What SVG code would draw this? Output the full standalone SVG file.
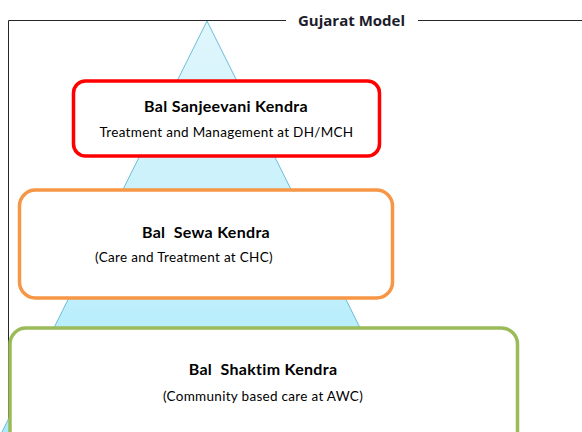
<svg xmlns="http://www.w3.org/2000/svg" width="582" height="432" viewBox="0 0 582 432">
  <style>
    .frame { fill: none; stroke: #262626; stroke-width: 1; }
    .box { fill: #ffffff; stroke-width: 3.5; }
    .title { font-family: Lato, "Liberation Sans", sans-serif; font-weight: bold; font-size: 16px; letter-spacing: 0.3px; fill: #000000; text-anchor: middle; }
    .sub { font-family: Lato, "Liberation Sans", sans-serif; font-size: 13.5px; letter-spacing: 0.3px; fill: #000000; text-anchor: middle; }
  </style>
  <defs>
    <linearGradient id="pyramidFill" x1="0" y1="0" x2="0" y2="1">
      <stop offset="0" stop-color="#e0f6fc"/>
      <stop offset="1" stop-color="#acebfc"/>
    </linearGradient>
  </defs>

  <!-- outer frame with caption -->
  <g id="frame">
    <path class="frame" d="M8.5,432 V20.5 H286 M418,20.5 H582"/>
    <text x="351.5" y="25.5" font-family="'Open Sans', 'Liberation Sans', sans-serif" font-weight="bold" font-size="15" fill="#1c1c2c" text-anchor="middle">Gujarat Model</text>
  </g>

  <!-- pyramid behind the tiers -->
  <g id="pyramid">
    <polygon points="207,21 413,434 1,434" fill="url(#pyramidFill)" stroke="#6cbcd6" stroke-width="1"/>
  </g>

  <g id="connectors"></g>

  <g id="bal-sanjeevani">
    <rect class="box" x="73.5" y="81" width="306" height="75" rx="12" stroke="#ff0000"/>
    <text class="title" x="226" y="111.5">Bal Sanjeevani Kendra</text>
    <text class="sub" x="226.5" y="136.5">Treatment and Management at DH/MCH</text>
  </g>

  <g id="bal-sewa">
    <rect class="box" x="19.5" y="190" width="373" height="108" rx="16" stroke="#f79646"/>
    <text class="title" x="206" y="237.5" xml:space="preserve">Bal  Sewa Kendra</text>
    <text class="sub" x="184" y="262">(Care and Treatment at CHC)</text>
  </g>

  <g id="bal-shaktim">
    <rect class="box" x="10" y="328" width="507.5" height="120" rx="16" stroke="#9bbb59"/>
    <text class="title" x="263" y="375" xml:space="preserve">Bal  Shaktim Kendra</text>
    <text class="sub" x="263" y="400.5">(Community based care at AWC)</text>
  </g>
</svg>
